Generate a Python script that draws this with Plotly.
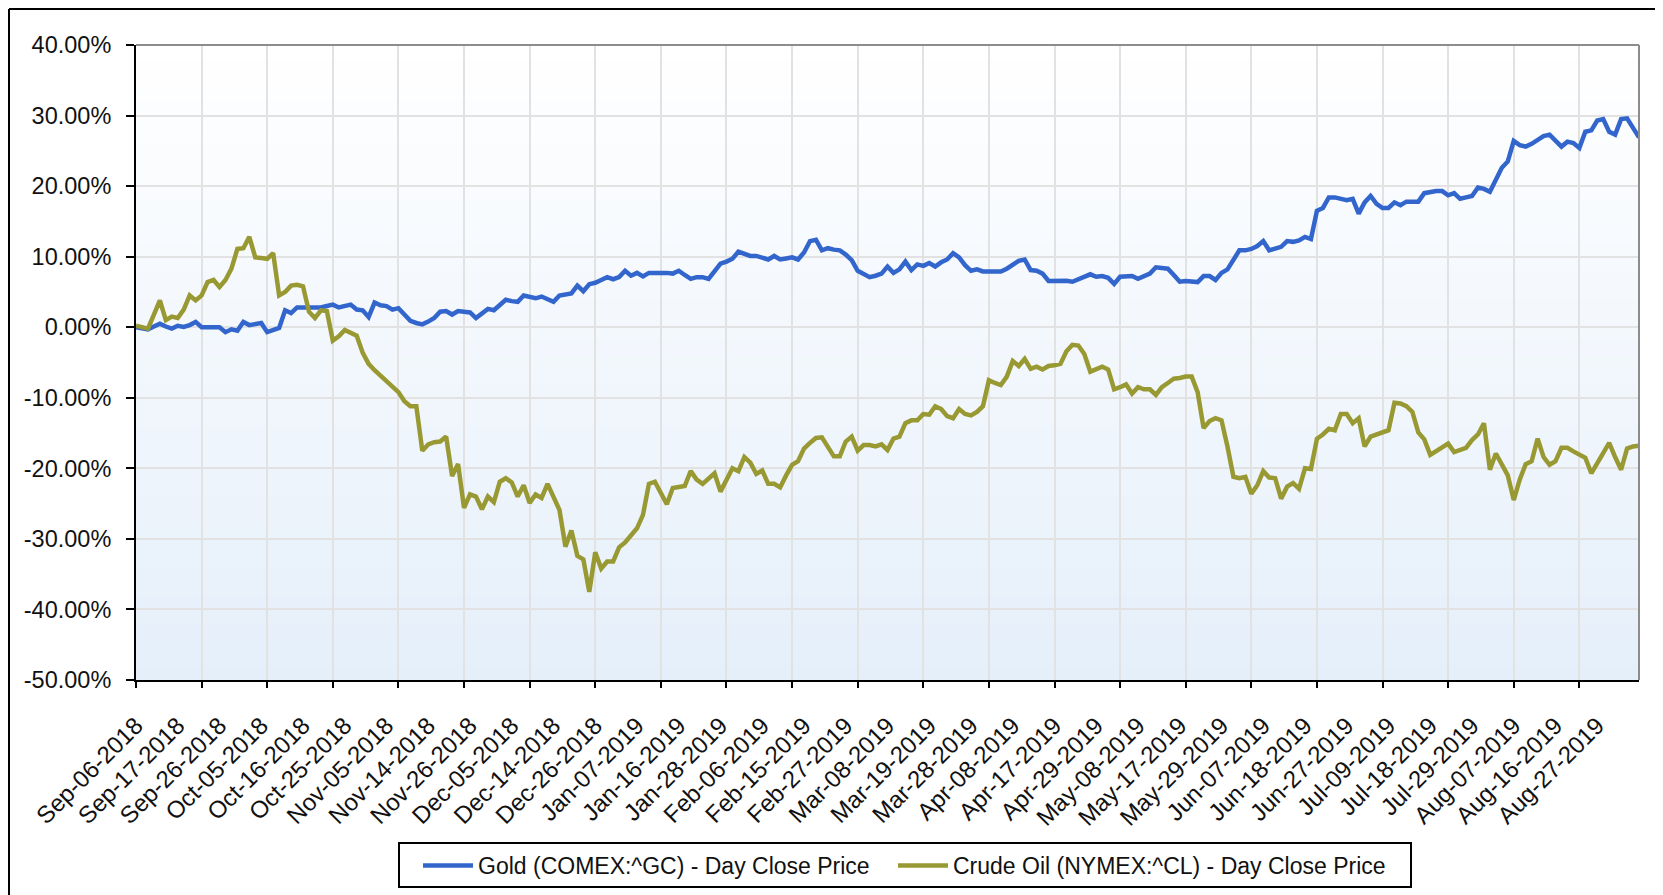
import pandas as pd
import plotly.graph_objects as go

# ---- data (percent change vs. first close) ----
start_date = "2018-09-06"
end_date = "2019-09-06"
market_holidays = ["2018-11-22", "2018-12-25", "2019-01-01", "2019-01-21",
                   "2019-02-18", "2019-04-19", "2019-05-27", "2019-07-04",
                   "2019-09-02"]

gold = [
    0.0, -0.2, -0.3, 0.1, 0.5, 0.1, -0.2, 0.2, 0.05, 0.3,
    0.75, 0.0, 0.0, 0.0, 0.0, -0.7, -0.3, -0.5, 0.75, 0.3,
    0.4, 0.6, -0.7, -0.4, -0.1, 2.4, 2.0, 2.8, 2.8, 2.8,
    2.8, 2.8, 3.0, 3.2, 2.8, 3.0, 3.2, 2.5, 2.4, 1.45,
    3.5, 3.1, 3.0, 2.5, 2.7, 1.8, 0.9, 0.6, 0.4, 0.8,
    1.3, 2.2, 2.3, 1.8, 2.3, 2.2, 2.1, 1.3, 2.0, 2.6,
    2.4, 3.1, 3.9, 3.7, 3.6, 4.5, 4.3, 4.1, 4.35, 4.0,
    3.6, 4.5, 4.6, 4.8, 5.9, 5.1, 6.1, 6.3, 6.7, 7.1,
    6.8, 7.1, 8.0, 7.3, 7.7, 7.2, 7.7, 7.75, 7.8, 7.7,
    7.6, 8.0, 7.4, 6.85, 7.1, 7.1, 6.85, 8.0, 9.0, 9.3,
    9.7, 10.7, 10.4, 10.1, 10.1, 9.8, 9.6, 10.1, 9.6, 9.75,
    9.9, 9.6, 10.6, 12.2, 12.4, 10.9, 11.2, 11.0, 10.9, 10.3,
    9.5, 8.0, 7.5, 7.1, 7.3, 7.6, 8.6, 7.7, 8.2, 9.3,
    8.1, 8.9, 8.7, 9.1, 8.6, 9.2, 9.6, 10.5, 9.9, 8.8,
    8.0, 8.2, 7.9, 7.9, 7.9, 7.9, 8.3, 8.9, 9.4, 9.6,
    8.1, 8.0, 7.6, 6.55, 6.55, 6.7, 6.6, 6.45, 6.8, 7.0,
    7.5, 7.15, 7.25, 7.0, 6.15, 7.15, 7.2, 7.25, 6.85, 7.2,
    7.6, 8.5, 8.4, 8.3, 7.4, 6.45, 6.55, 6.5, 6.4, 7.25,
    7.25, 6.7, 7.7, 8.2, 9.6, 10.9, 10.9, 11.1, 11.5, 12.2,
    10.9, 11.1, 11.4, 12.2, 12.1, 12.3, 12.8, 12.5, 16.5, 16.9,
    18.4, 18.4, 18.2, 18.0, 18.2, 16.1, 17.7, 18.6, 17.5, 16.9,
    16.9, 17.7, 17.3, 17.8, 17.8, 17.8, 19.0, 19.2, 19.3, 19.3,
    18.7, 19.0, 18.2, 18.4, 18.6, 19.8, 19.6, 19.2, 21.0, 22.6,
    23.5, 26.4, 25.8, 25.6, 26.0, 26.5, 27.1, 27.3, 26.5, 25.6,
    26.3, 26.1, 25.4, 27.7, 27.9, 29.3, 29.5, 27.7, 27.3, 29.5,
    29.6, 28.2, 26.9,
]

crude = [
    0.2, 0.0, -0.2, 1.8, 3.8, 1.0, 1.5, 1.3, 2.5, 4.5,
    3.8, 4.5, 6.4, 6.7, 5.7, 6.7, 8.3, 11.1, 11.2, 12.8,
    9.9, 9.8, 9.7, 10.5, 4.5, 5.0, 5.9, 6.0, 5.8, 2.2,
    1.3, 2.4, 2.3, -1.9, -1.3, -0.4, -0.8, -1.2, -3.6, -5.2,
    -6.1, -6.9, -7.8, -8.6, -9.2, -10.5, -11.2, -11.2, -17.5, -16.6,
    -16.3, -16.2, -15.5, -21.1, -19.4, -25.6, -23.7, -24.0, -25.8, -24.0,
    -24.8, -21.9, -21.4, -22.0, -24.0, -22.4, -24.9, -23.7, -24.2, -22.2,
    -23.9, -25.9, -31.1, -28.8, -32.4, -32.9, -37.5, -31.9, -34.2, -33.2,
    -33.2, -31.2, -30.5, -29.6, -28.5, -26.6, -22.2, -21.9, -23.5, -25.1,
    -22.8, -22.6, -22.5, -20.4, -21.6, -22.2, -21.5, -20.7, -23.3, -21.5,
    -20.0, -20.4, -18.4, -19.2, -20.8, -20.3, -22.2, -22.2, -22.7, -21.0,
    -19.5, -19.0, -17.2, -16.4, -15.7, -15.6, -16.9, -18.3, -18.3, -16.2,
    -15.5, -17.5, -16.7, -16.7, -16.9, -16.6, -17.4, -15.8, -15.5, -13.6,
    -13.2, -13.2, -12.3, -12.4, -11.2, -11.6, -12.6, -12.9, -11.6, -12.3,
    -12.5, -12.0, -11.2, -7.5, -7.9, -8.2, -7.0, -4.8, -5.5, -4.5,
    -5.9, -5.6, -6.0, -5.5, -5.4, -5.2, -3.4, -2.5, -2.6, -3.8,
    -6.3, -6.0, -5.6, -6.0, -8.8, -8.5, -8.1, -9.4, -8.5, -8.8,
    -8.8, -9.6, -8.5, -7.9, -7.3, -7.2, -7.0, -7.0, -9.2, -14.3,
    -13.3, -12.9, -13.2, -16.9, -21.2, -21.4, -21.2, -23.6, -22.4, -20.4,
    -21.3, -21.4, -24.3, -22.6, -22.1, -22.9, -20.0, -20.1, -15.8, -15.2,
    -14.4, -14.6, -12.3, -12.3, -13.6, -12.9, -16.9, -15.5, -15.2, -14.9,
    -14.6, -10.7, -10.8, -11.2, -12.0, -14.9, -15.9, -18.1, -17.6, -17.1,
    -16.5, -17.7, -17.4, -17.1, -16.0, -15.2, -13.6, -20.2, -17.9, -19.3,
    -21.0, -24.5, -21.6, -19.4, -19.0, -15.8, -18.4, -19.5, -19.0, -17.1,
    -17.1, -17.6, -18.1, -18.5, -20.7, -19.2, -17.8, -16.4, -18.4, -20.2,
    -17.2, -16.9, -16.8,
]

y_ticks = [-50, -40, -30, -20, -10, 0, 10, 20, 30, 40]
y_tick_text = ["%.2f%%" % v for v in y_ticks]
gold_name = "Gold (COMEX:^GC) - Day Close Price"
crude_name = "Crude Oil (NYMEX:^CL) - Day Close Price"

# trading-day categories
days = [d for d in pd.bdate_range(start_date, end_date)
        if d.strftime("%Y-%m-%d") not in market_holidays]
dates = [d.strftime("%b-%d-%Y") for d in days]
n_last = len(dates) - 1
label_dates = dates[0:n_last - 6:7]      # Sep-06-2018 ... Aug-27-2019
grid_dates = dates[::11]

FONT = "Liberation Sans, Arial, sans-serif"
GRID = "#e2e2e2"
TXT = "#111111"

# page has an 8px body margin -> figure is 1655x887 inside the 1663x895 window
W, H = 1655, 887
ML, MR, MT, MB = 128, 24, 37, 215
PW, PH = W - ML - MR, H - MT - MB


def px_x(x):   # div pixel -> paper x
    return (x - ML) / PW


def px_y(y):   # div pixel -> paper y
    return (MT + PH - y) / PH


fig = go.Figure()
fig.add_trace(go.Scatter(x=dates, y=gold, name=gold_name, mode="lines",
                         line=dict(color="#3366CC", width=4.5),
                         xaxis="x", yaxis="y", legend="legend"))
fig.add_trace(go.Scatter(x=dates, y=crude, name=crude_name, mode="lines",
                         line=dict(color="#999933", width=4.5),
                         xaxis="x2", yaxis="y", legend="legend2"))

# gradient plot background (white at top -> pale blue at bottom)
n_strips = 45
top_c = (255, 255, 255)
bot_c = (229, 239, 250)
span = (y_ticks[-1] - y_ticks[0]) / n_strips
shapes = []
for i in range(n_strips):
    t = (i + 0.5) / n_strips
    c = tuple(round(bot_c[k] + (top_c[k] - bot_c[k]) * t) for k in range(3))
    y0 = y_ticks[0] + i * span
    shapes.append(dict(type="rect", xref="paper", yref="y", x0=0, x1=1,
                       y0=y0, y1=y0 + span * 1.05,
                       fillcolor="rgb(%d,%d,%d)" % c, line=dict(width=0),
                       layer="below"))
# top / right frame of plot area
shapes.append(dict(type="line", xref="paper", yref="paper", x0=0, x1=1, y0=1, y1=1,
                   line=dict(color="#8c8c8c", width=2)))
shapes.append(dict(type="line", xref="paper", yref="paper", x0=1, x1=1, y0=0, y1=1,
                   line=dict(color="#8c8c8c", width=2)))
# outer frame (top and left edges)
shapes.append(dict(type="line", xref="paper", yref="paper", x0=px_x(1), x1=px_x(W),
                   y0=px_y(1), y1=px_y(1), line=dict(color="black", width=2)))
shapes.append(dict(type="line", xref="paper", yref="paper", x0=px_x(1), x1=px_x(1),
                   y0=px_y(H), y1=px_y(1), line=dict(color="black", width=2)))
# legend frame
shapes.append(dict(type="rect", xref="paper", yref="paper",
                   x0=px_x(391), x1=px_x(1403), y0=px_y(879), y1=px_y(835),
                   line=dict(color="black", width=2), fillcolor="rgba(0,0,0,0)",
                   layer="above"))

legend_common = dict(orientation="h", yanchor="top", y=px_y(836), xanchor="left",
                     borderwidth=0, bgcolor="rgba(0,0,0,0)",
                     font=dict(family=FONT, size=23, color=TXT), itemwidth=50)

fig.update_layout(
    width=W, height=H, autosize=False,
    margin=dict(l=ML, r=MR, t=MT, b=MB, autoexpand=False),
    paper_bgcolor="white", plot_bgcolor="rgba(0,0,0,0)",
    font=dict(family=FONT, color=TXT, size=22),
    shapes=shapes,
    showlegend=True,
    legend=dict(x=px_x(410), **legend_common),
    legend2=dict(x=px_x(885), **legend_common),
    xaxis=dict(type="category", categoryorder="array", categoryarray=dates,
               range=[0, n_last], tickmode="array", tickvals=label_dates,
               ticktext=label_dates, tickangle=-45, ticks="", showgrid=False,
               zeroline=False, showline=True, linecolor="black", linewidth=2,
               ticklabelstandoff=20, automargin=False,
               tickfont=dict(family=FONT, size=24, color=TXT)),
    xaxis2=dict(type="category", categoryorder="array", categoryarray=dates,
                overlaying="x", anchor="y", side="bottom", range=[0, n_last],
                tickmode="array", tickvals=grid_dates, showticklabels=False,
                ticks="outside", ticklen=7, tickwidth=2, tickcolor="black",
                showgrid=True, gridcolor=GRID, gridwidth=2, zeroline=False,
                showline=False),
    yaxis=dict(range=[y_ticks[0], y_ticks[-1]], tickmode="array", tickvals=y_ticks,
               ticktext=y_tick_text, ticks="outside", ticklen=8,
               tickwidth=2, tickcolor="black", showline=True, linecolor="black",
               linewidth=2, showgrid=True, gridcolor=GRID, gridwidth=2,
               zeroline=False, ticklabelstandoff=10, automargin=False,
               tickfont=dict(family=FONT, size=23.5, color=TXT)),
)

fig.write_html("out.html")
